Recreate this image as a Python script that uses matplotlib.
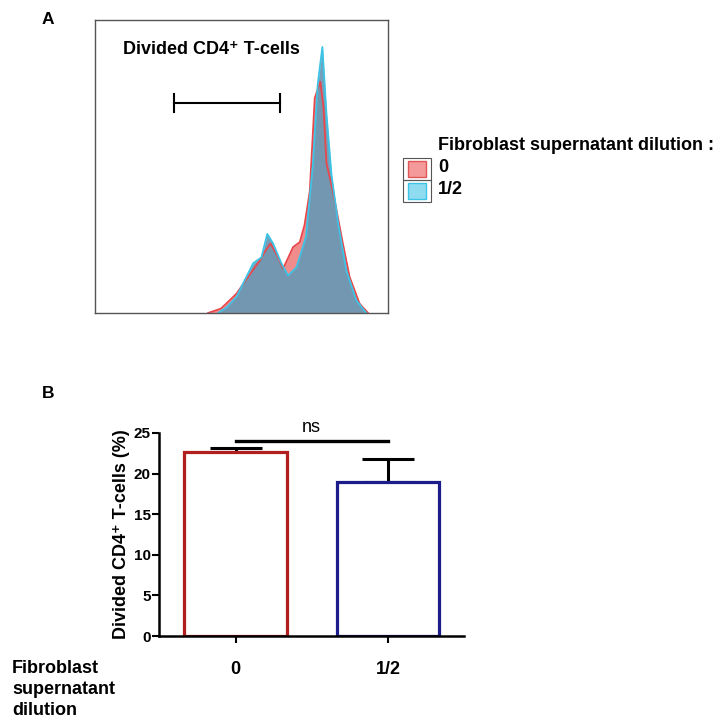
import matplotlib.pyplot as plt
from matplotlib.patches import Rectangle
import numpy as np

plt.rcParams['font.family'] = ['Liberation Sans', 'DejaVu Sans']

# histogramme (panel A), x en % de l'axe, y en fraction de la hauteur
x_zero = [38.6, 43, 48.3, 52, 56.3, 58, 59.9, 62, 64.2, 66, 67.6, 69.9, 71.5,
          73.3, 75, 76.9, 78, 79, 81.2, 84.6, 86.9, 90.3, 93.2]
y_zero = [0, 0.015, 0.066, 0.12, 0.18, 0.21, 0.237, 0.2, 0.152, 0.19, 0.225,
          0.242, 0.3, 0.415, 0.734, 0.789, 0.7, 0.512, 0.415, 0.237, 0.123, 0.032, 0]
x_half = [42, 45, 48.3, 51, 54, 56.8, 58.8, 60.8, 63.6, 65.9, 68.8, 72, 74.4,
          76, 77.6, 79, 80.7, 83, 85.8, 89.2, 92.6]
y_half = [0, 0.02, 0.055, 0.11, 0.17, 0.19, 0.27, 0.237, 0.17, 0.128, 0.157,
          0.26, 0.51, 0.78, 0.908, 0.68, 0.473, 0.305, 0.145, 0.043, 0]
gate = [27, 63]
gate_y = 0.717

# barres (panel B)
groups = ['0', '1/2']
means = [22.6, 19.0]
sem = [0.55, 2.8]
ns_y = 24.0

fs = 13
fig = plt.figure(figsize=(7.23, 7.25), dpi=100)

# ---- A
axA = fig.add_axes([95/723, 1-313/725, 293/723, 293/725])
axA.fill_between(x_zero, y_zero, color='#f08c8c', lw=0)
axA.fill_between(x_half, y_half, color='#6b98b4', alpha=0.93, lw=0)
axA.plot(x_zero, y_zero, color='#e8474b', lw=1.3)
axA.plot(x_half, y_half, color='#3cc3e6', lw=1.3)
axA.plot(gate, [gate_y, gate_y], color='black', lw=1.5)
for g in gate:
    axA.plot([g, g], [gate_y - 0.032, gate_y + 0.032], color='black', lw=1.5)
axA.set_xlim(0, 100)
axA.set_ylim(0, 1)
axA.set_xticks([])
axA.set_yticks([])
for s in axA.spines.values():
    s.set_color('#555555')
    s.set_linewidth(1)
axA.text(0.095, 0.9, 'Divided CD4⁺ T-cells', transform=axA.transAxes,
         fontsize=fs, fontweight='bold', va='center')
fig.text(48/723, 1-20/725, 'A', fontsize=12.5, fontweight='bold', ha='center', va='center')

# legende
fig.text(438/723, 1-145/725, 'Fibroblast supernatant dilution :', fontsize=fs,
         fontweight='bold', va='center')
fig.text(438/723, 1-167/725, '0', fontsize=fs, fontweight='bold', va='center')
fig.text(438/723, 1-189/725, '1/2', fontsize=fs, fontweight='bold', va='center')
for i, (fc, ec) in enumerate([('#f49a9a', '#e05555'), ('#8fdcf0', '#3cc3e6')]):
    top = 158 + 22 * i
    fig.add_artist(Rectangle((403/723, 1-(top+22)/725), 28/723, 22/725,
                             transform=fig.transFigure, fc='none', ec='#555555', lw=0.8))
    fig.add_artist(Rectangle((408/723, 1-(top+18.5)/725), 18/723, 15/725,
                             transform=fig.transFigure, fc=fc, ec=ec, lw=1))

# ---- B
axB = fig.add_axes([159.25/723, 1-636/725, 305/723, 203/725])
xpos = np.arange(len(groups))
edges = ['#b01e1e', '#1c1c8a']
axB.bar(xpos, means, width=0.675, color='white', edgecolor=edges, linewidth=2.3, zorder=2)
axB.errorbar(xpos, means, yerr=[[0, 0], sem], fmt='none', ecolor='black',
             elinewidth=2.2, capsize=19, capthick=2.2, zorder=1)
axB.plot([xpos[0], xpos[1]], [ns_y, ns_y], color='black', lw=2.4, clip_on=False)
axB.text(xpos.mean(), ns_y + 0.6, 'ns', ha='center', va='bottom', fontsize=fs)
axB.set_xlim(-0.5, 1.5)
axB.set_ylim(0, 25)
axB.set_yticks([0, 5, 10, 15, 20, 25])
axB.set_xticks(xpos)
axB.set_xticklabels(groups, fontsize=fs, fontweight='bold')
axB.tick_params(axis='x', length=5, width=1.5, pad=13)
axB.tick_params(axis='y', length=5, width=1.5, pad=1, labelsize=11)
for lab in axB.get_yticklabels():
    lab.set_fontweight('bold')
axB.spines['top'].set_visible(False)
axB.spines['right'].set_visible(False)
axB.spines['left'].set_linewidth(1.8)
axB.spines['bottom'].set_linewidth(1.8)
axB.set_ylabel('Divided CD4⁺ T-cells (%)', fontsize=fs, fontweight='bold', labelpad=3)
fig.text(48/723, 1-393/725, 'B', fontsize=12.5, fontweight='bold', ha='center', va='center')
fig.text(12/723, 1-660/725, 'Fibroblast\nsupernatant\ndilution', fontsize=fs,
         fontweight='bold', va='top', linespacing=1.3)

fig.savefig('out.png', dpi=100)
